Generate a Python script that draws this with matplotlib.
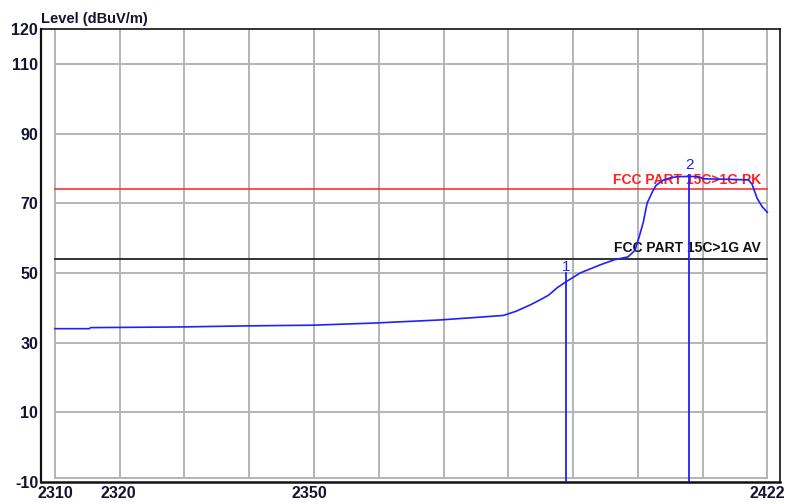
import matplotlib.pyplot as plt
import numpy as np

plt.rcParams['font.family'] = ['Liberation Sans', 'DejaVu Sans']

# scan trace (MHz, dBuV/m)
freq = [2310.0, 2315.4, 2315.6, 2330.0, 2340.0, 2350.5, 2360.0, 2370.5,
        2376.0, 2380.5, 2382.5, 2384.7, 2386.3, 2387.6, 2389.0, 2390.3,
        2392.6, 2395.7, 2398.0, 2400.1, 2401.2, 2401.8, 2402.5, 2403.1,
        2404.0, 2404.5, 2405.6, 2406.8, 2407.8, 2409.7, 2411.2, 2412.0,
        2415.0, 2419.0, 2419.6, 2420.4, 2421.2, 2422.0]
level = [34.0, 34.0, 34.3, 34.5, 34.8, 35.0, 35.6, 36.5,
         37.2, 37.8, 39.0, 40.8, 42.3, 43.6, 45.8, 47.4,
         50.0, 52.3, 53.8, 54.6, 56.5, 60.0, 64.5, 70.0,
         73.5, 75.1, 76.6, 77.3, 77.6, 77.7, 77.6, 77.0,
         76.9, 76.7, 75.5, 71.4, 69.0, 67.4]

# limit lines
limit_pk = 74.0
limit_av = 54.0

# markers
marker_freq = [2390.3, 2409.7]
marker_level = [47.4, 77.7]
marker_names = ['1', '2']

x_ticks = [2310, 2320, 2350, 2422]
y_ticks = [-10, 10, 30, 50, 70, 90, 110, 120]
y_grid = [10, 30, 50, 70, 90, 110]
x_grid = np.linspace(2310, 2422, 12)

fig = plt.figure(figsize=(7.87, 5.04), dpi=100)
ax = fig.add_axes([41 / 787, 22 / 504, 739 / 787, 453 / 504])
ax.set_xlim(2307.8, 2424.0)
ax.set_ylim(-10, 120)

grid_kw = dict(color='#b4b4b4', linewidth=1.4, zorder=1)
for gx in x_grid:
    ax.plot([gx, gx], [-8.9, 120], **grid_kw)
for gy in y_grid:
    ax.plot([2310, 2422], [gy, gy], **grid_kw)
ax.plot([2310, 2422], [-8.9, -8.9], **grid_kw)

ax.plot([2310, 2422], [limit_pk, limit_pk], color='#ff2020', linewidth=1.1, zorder=2)
ax.plot([2310, 2422], [limit_av, limit_av], color='#222222', linewidth=1.3, zorder=2)
ax.text(2421, limit_pk + 0.8, 'FCC PART 15C>1G PK', color='#ff2020', ha='right',
        va='bottom', fontsize=10, fontweight='bold', zorder=3)
ax.text(2421, limit_av + 1.0, 'FCC PART 15C>1G AV', color='#111111', ha='right',
        va='bottom', fontsize=10, fontweight='bold', zorder=3)

ax.plot(freq, level, color='#2020ff', linewidth=1.2, zorder=4)

for mf, ml, name in zip(marker_freq, marker_level, marker_names):
    top = ml + (2.6 if name == '1' else 0.3)
    ax.plot([mf, mf], [-10, top], color='#2020ff', linewidth=1.3, zorder=4)
    ax.text(mf, ml + (2.4 if name == '1' else 1.2), name, color='#2020ff',
            ha='center', va='bottom', fontsize=11, zorder=5)

for side in ['left', 'bottom', 'top', 'right']:
    ax.spines[side].set_color('#111111')
ax.spines['left'].set_linewidth(1.6)
ax.spines['bottom'].set_linewidth(1.8)
ax.spines['top'].set_linewidth(1.2)
ax.spines['right'].set_linewidth(1.2)

ax.set_xticks(x_ticks)
ax.set_xticklabels([str(t) for t in x_ticks])
ax.set_yticks(y_ticks)
ax.set_yticklabels([str(t) for t in y_ticks])
ax.tick_params(axis='both', length=0, labelsize=11.5, labelcolor='#141430')
ax.tick_params(axis='x', pad=3)
ax.tick_params(axis='y', pad=2)
for lbl in ax.get_xticklabels() + ax.get_yticklabels():
    lbl.set_fontweight('bold')

fig.text(41 / 787, 1 - 19 / 504, 'Level (dBuV/m)', ha='left', va='center',
         fontsize=10.5, fontweight='bold', color='#141430')

fig.savefig('out.png', dpi=100)
